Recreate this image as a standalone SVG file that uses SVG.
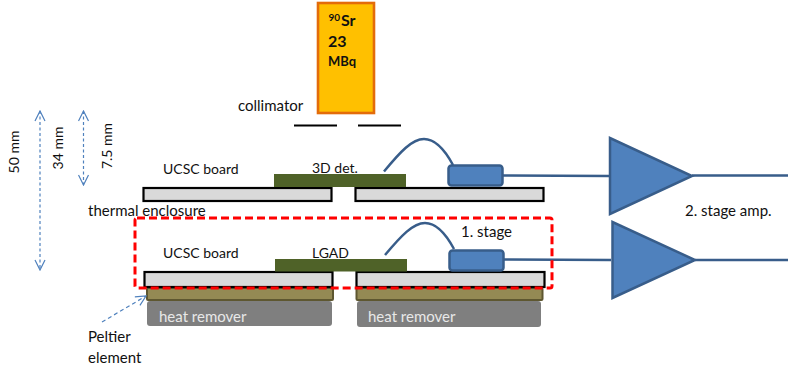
<svg xmlns="http://www.w3.org/2000/svg" width="788" height="368" viewBox="0 0 788 368">
<style>
text{font-family:"Lato","Open Sans","Liberation Sans",sans-serif;font-size:14px;fill:#111}
.l{font-size:15px}
.board{fill:#d9d9d9;stroke:#000;stroke-width:2.2}
.det{fill:#4f6228}
.pel{fill:#948a54;stroke:#5e5730;stroke-width:2}
.heat{fill:#7f7f7f}
.heat-t{fill:#e8e8e8;font-size:15px}
.amp{fill:#4f81bd;stroke:#385d8a;stroke-width:2.5;stroke-linejoin:miter}
.box{fill:#4f81bd;stroke:#385d8a;stroke-width:2.5}
.w{fill:none;stroke:#385d8a;stroke-width:2.5}
.dim{fill:none;stroke:#4f81bd;stroke-width:1.2;stroke-dasharray:3 2.5;marker-start:url(#a);marker-end:url(#a)}
.b{font-weight:700}
</style>
<defs>
<marker id="a" viewBox="0 0 12 12" refX="11" refY="6" markerWidth="12" markerHeight="12" markerUnits="userSpaceOnUse" orient="auto-start-reverse"><path d="M1 1L11 6L1 11" fill="none" stroke="#4f81bd" stroke-width="1.2"/></marker>
<marker id="e" viewBox="0 0 12 12" refX="11" refY="6" markerWidth="12" markerHeight="12" markerUnits="userSpaceOnUse" orient="auto"><path d="M1 1L11 6L1 11" fill="none" stroke="#4f81bd" stroke-width="1.2"/></marker>
</defs>

<g id="source"><rect x="318" y="3" width="56" height="110" fill="#ffc000" stroke="#e36c0a" stroke-width="2.6"/>
<text x="328.500" y="21" class="b" style="font-size:10px">90</text><text x="341" y="26" class="b" style="font-size:16px">Sr</text>
<text x="328" y="47" class="b" style="font-size:16px">23</text>
<text x="328" y="66" class="b" style="font-size:13px">MBq</text></g>
<g id="collimator"><path d="M294 125.500H337M358 125.500H401" stroke="#000" stroke-width="2.200" fill="none"/>
<text class="l" x="238" y="111">collimator</text></g>

<g id="upper-board-left"><rect class="board" x="143.500" y="188" width="188" height="13"/><text x="163" y="174">UCSC board</text></g>
<g id="upper-board-right"><rect class="board" x="355.500" y="188" width="188" height="13"/></g>
<g id="det-3d"><text x="312" y="173">3D det.</text><rect class="det" x="274" y="174" width="132" height="13"/></g>
<g id="upper-stage"><rect class="box" x="448.500" y="165.500" width="54" height="20" rx="3"/></g>
<g id="upper-amp"><path class="amp" d="M610 138V214L692 176Z"/></g>

<g id="lower-peltier-left"><rect class="pel" x="147" y="288" width="186" height="12" rx="1"/></g>
<g id="lower-peltier-right"><rect class="pel" x="356.500" y="288" width="186" height="12" rx="1"/></g>
<g id="heat-left"><rect class="heat" x="147" y="301" width="185" height="25" rx="3"/><text class="heat-t" x="159" y="322">heat remover</text></g>
<g id="heat-right"><rect class="heat" x="357" y="301" width="184" height="26" rx="3"/><text class="heat-t" x="368" y="322">heat remover</text></g>
<g id="lower-board-left"><rect class="board" x="144.500" y="272" width="188" height="15"/><text x="163" y="258">UCSC board</text></g>
<g id="lower-board-right"><rect class="board" x="356.500" y="272" width="188" height="15"/></g>
<g id="det-lgad"><text x="312" y="258">LGAD</text><rect class="det" x="275" y="259" width="132" height="12.500"/></g>
<g id="lower-stage"><rect class="box" x="449.500" y="250.500" width="54" height="20" rx="3"/><text class="l" x="461" y="237">1. stage</text></g>
<g id="lower-amp"><path class="amp" d="M612.500 222V298L695 260Z"/></g>

<g id="connectors">
<path class="w" d="M384 171.500C400 152 412 139 424 139C436 139 446 152 453 165"/>
<path class="w" d="M385 255C401 236 413 223 425 223C437 223 447 236 454 249"/>
<path class="w" d="M503 175.500L609 176M692 175.500H788M504 259.500L611 260M695 260H788"/>
<path class="dim" d="M40 111V270"/>
<path class="dim" d="M83.500 111V185"/>
<path d="M102 322L146 296" fill="none" stroke="#4f81bd" stroke-width="1.200" stroke-dasharray="4 3" marker-end="url(#e)"/>
</g>

<g id="frame"><rect x="135" y="218" width="417" height="70" rx="2" fill="none" stroke="#f00" stroke-width="3" stroke-dasharray="8 4"/></g>

<g id="labels">
<text transform="translate(19 152) rotate(-90)" text-anchor="middle">50 mm</text>
<text transform="translate(63 148) rotate(-90)" text-anchor="middle">34 mm</text>
<text transform="translate(112 146) rotate(-90)" text-anchor="middle">7.5 mm</text>
<text class="l" x="88" y="216">thermal enclosure</text>
<text class="l" x="88" y="342">Peltier</text>
<text class="l" x="88" y="363">element</text>
<text class="l" x="685" y="216">2. stage amp.</text>
</g>
</svg>
